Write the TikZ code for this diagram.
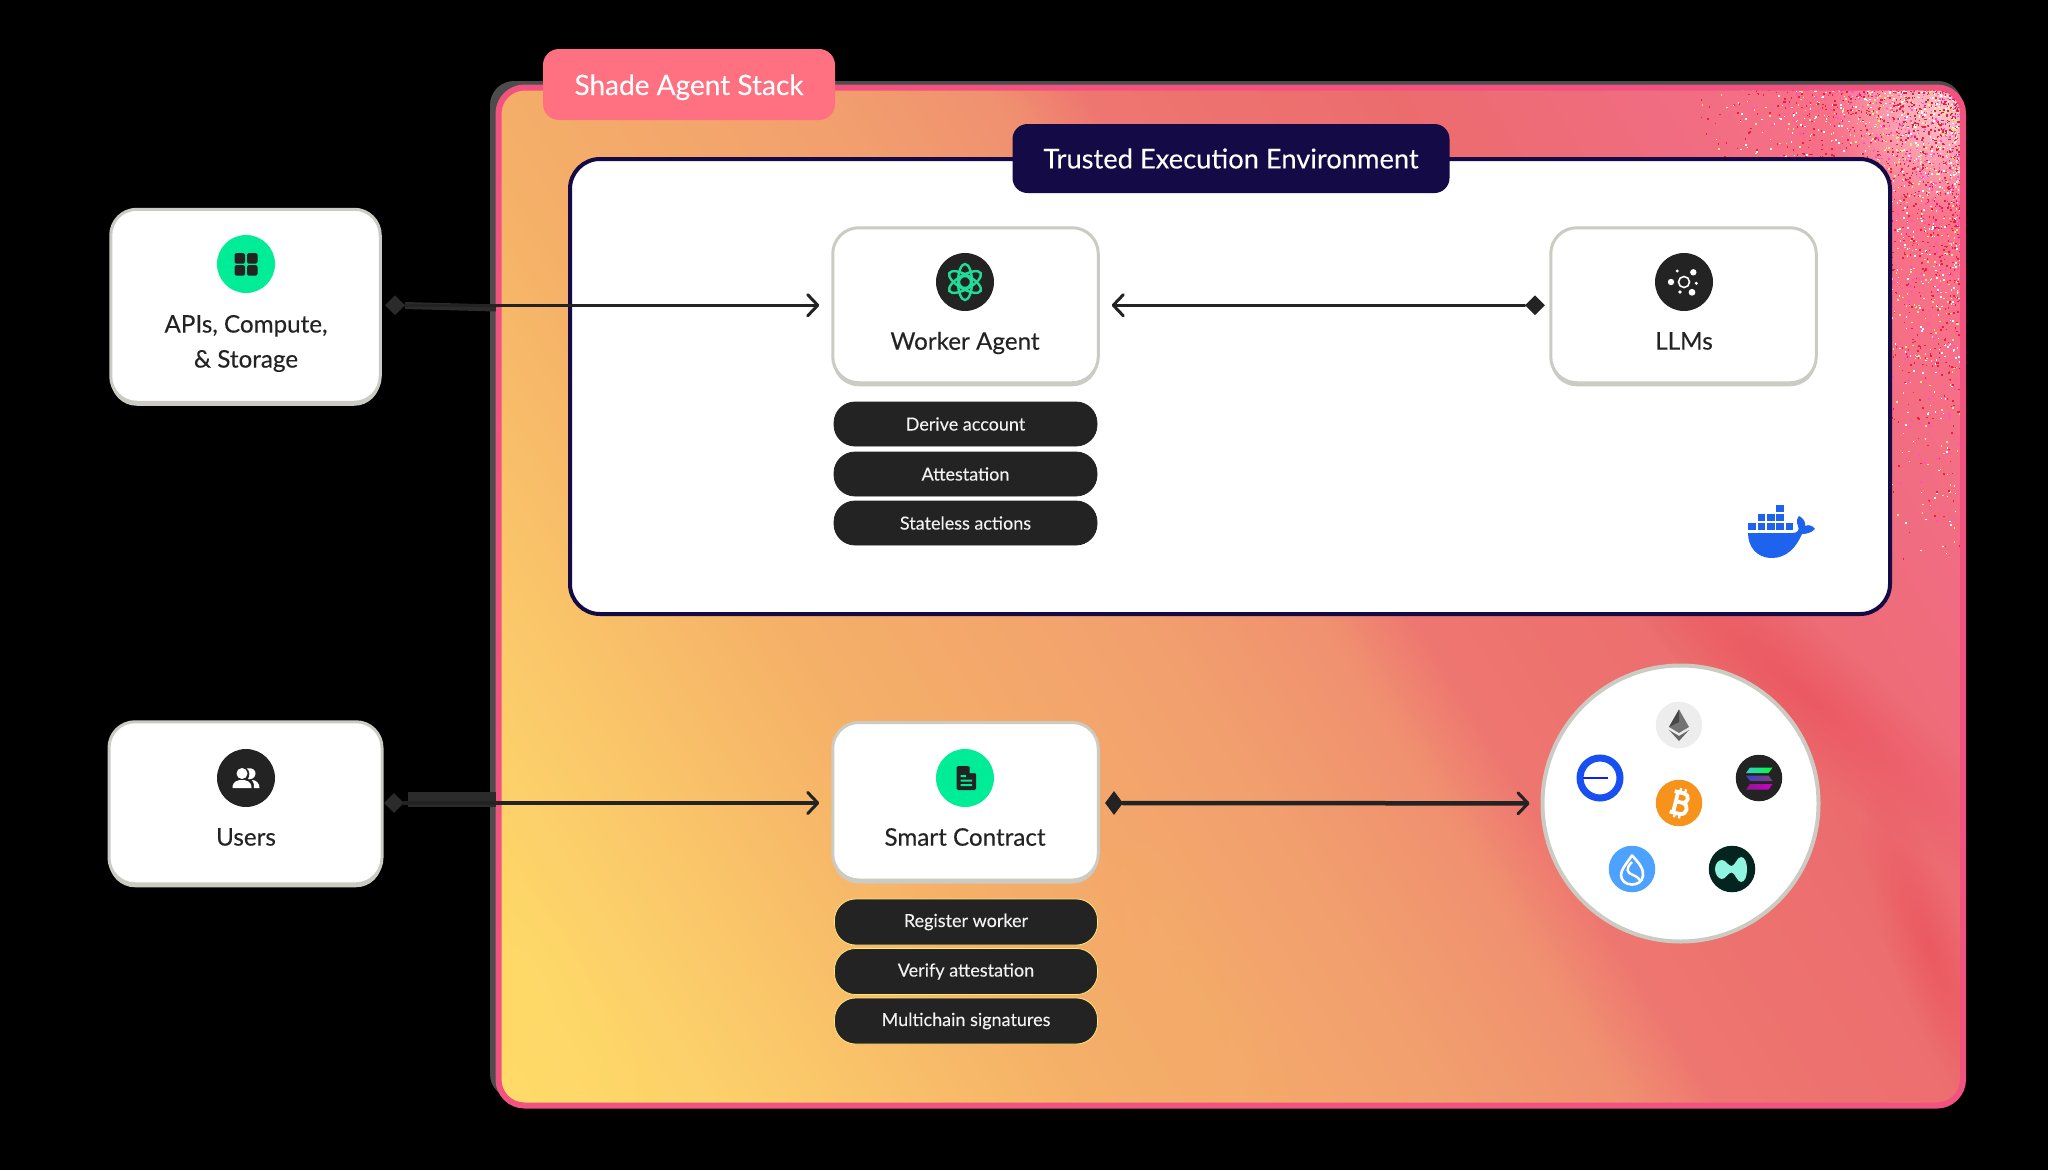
\documentclass[tikz,border=0pt]{standalone}
\usepackage{fontspec}
\setmainfont{Lato}
\newfontfamily\lab{Lato}[FakeBold=0.25]
\newfontfamily\reg{Lato}[FakeBold=0.1]
\usetikzlibrary{shapes.geometric,shadows,arrows.meta,fadings}
\definecolor{ink}{HTML}{232323}
\definecolor{edge}{HTML}{CBCBC3}
\definecolor{mint}{HTML}{00EC97}
\definecolor{atom}{HTML}{1FDC98}
\definecolor{panelpink}{HTML}{F2527F}
\definecolor{navy}{HTML}{140A45}
\definecolor{tagpink}{HTML}{FF7080}
\definecolor{bandgrey}{HTML}{2B2B2B}
\definecolor{dock}{HTML}{1D63ED}
\definecolor{ga}{HTML}{FFDC68}
\definecolor{gb}{HTML}{FCCF6A}
\definecolor{gc}{HTML}{F5B068}
\definecolor{gd}{HTML}{F2A06E}
\definecolor{ge}{HTML}{F09070}
\definecolor{gf}{HTML}{EE7670}
\definecolor{gg}{HTML}{EC6C6E}
\definecolor{gh}{HTML}{F06C80}
\definecolor{gi}{HTML}{FF7490}
\definecolor{specka}{HTML}{E8203C}
\definecolor{speckb}{HTML}{FF4FD0}
\definecolor{speckc}{HTML}{FFE97A}
\definecolor{btcorange}{HTML}{F7931A}
\definecolor{suiblue}{HTML}{4DA2FF}
\definecolor{neardark}{HTML}{04241F}
\definecolor{nearmint}{HTML}{8FF5E0}
\pgfdeclarehorizontalshading{panelband}{100bp}{
 color(0bp)=(ga);color(25.5bp)=(ga);
 color(31bp)=(gb);color(39.3bp)=(gc);
 color(47.5bp)=(gd);color(51.9bp)=(ge);
 color(54bp)=(gf);color(61.3bp)=(gg);
 color(66.8bp)=(gh);color(75bp)=(gi);color(100bp)=(gi)}
\tikzfading[name=softblob,inner color=transparent!0,outer color=transparent!100]
\tikzset{
 cardbox/.style={draw=edge,line width=3pt,fill=white,rounded corners=26pt,inner sep=0pt,
   general shadow={fill=edge,shadow yshift=-3.5pt,shadow xshift=0pt}},
 iconbg/.style={circle,minimum size=58pt,inner sep=0pt,fill=#1},
 lbl/.style={font=\lab\fontsize{24.2}{35}\selectfont,text=ink,inner sep=0pt,align=center},
 pill/.style={fill=ink,draw=#1,line width=.8pt,rounded corners=21pt,minimum width=263pt,minimum height=44pt,inner sep=0pt,
   font=\reg\fontsize{18}{20}\selectfont,text=white!95!black},
 diam/.style={diamond,fill=#1,minimum size=20pt,inner sep=0pt},
 conn/.style={draw=ink,line width=3pt,line cap=round,shorten >=12pt,
   -{Straight Barb[length=10pt,width=21pt,line width=3pt,round]}},
 chain/.style={circle,minimum size=46.5pt,inner sep=0pt,fill=#1},
 streak/.style={fill=#1,path fading=softblob}
}
\begin{document}
\begin{tikzpicture}[x=1pt,y=-1pt]
\useasboundingbox (0,0) rectangle (2048,1170);
\fill[black] (0,0) rectangle (2048,1170);
% panel
\fill[gray!60!black,rounded corners=24pt] (490,81) rectangle (1962,1098);
\begin{scope}
 \clip[rounded corners=26pt] (498.5,87.5) rectangle (1963,1105.5);
 \shade[shading=panelband,transform canvas={shift={(500,1110)},rotate=32}] (-20,-2500) rectangle (1800,2500);
 % soft streaks
 \fill[streak=ga,opacity=.6,transform canvas={shift={(530,980)},rotate=-60}] (0,0) ellipse [x radius=230,y radius=80];
 \fill[streak=specka,opacity=.25,transform canvas={shift={(1800,690)},rotate=-40}] (0,0) ellipse [x radius=300,y radius=60];
 \fill[streak=specka,opacity=.25,transform canvas={shift={(1930,950)},rotate=-70}] (0,0) ellipse [x radius=170,y radius=40];
 \fill[streak=gc,opacity=.45,transform canvas={shift={(1200,1000)},rotate=-65}] (0,0) ellipse [x radius=220,y radius=70];
 \fill[streak=white,opacity=.55,transform canvas={shift={(1940,110)}}] (0,0) ellipse [x radius=110,y radius=110];
 % grain in the pink corner
 \pgfmathsetseed{42}
 \foreach \i in {1,...,3200}{
   \pgfmathsetmacro\px{1962-270*rnd*rnd}
   \pgfmathsetmacro\py{89+480*rnd*rnd}
   \pgfmathsetmacro\pick{int(random(1,5))}
   \ifcase\pick\or\fill[white]\or\fill[specka]\or\fill[speckb]\or\fill[speckc]\or\fill[specka]\fi (\px,\py) rectangle ++(1.5,1.5);
 }
\end{scope}
\draw[panelpink,line width=6pt,rounded corners=26pt] (498.5,87.5) rectangle (1963,1105.5);
\node[fill=tagpink,rounded corners=16pt,minimum width=292pt,minimum height=71pt,inner sep=0pt,font=\reg\fontsize{28}{30}\selectfont,text=white] (stacktag) at (689,84.5) {\smash{\raisebox{-10.5pt}{Shade Agent Stack}}};

% TEE
\node[draw=navy,line width=4pt,fill=white,rounded corners=30pt,minimum width=1320pt,minimum height=455pt,inner sep=0pt] (tee) at (1230,386.5) {};
\node[fill=navy,rounded corners=15pt,minimum width=437pt,minimum height=69pt,inner sep=0pt,font=\reg\fontsize{27.3}{30}\selectfont,text=white] (teetag) at (1231,158.5) {Trusted Execution Environment};

% outer cards
\node[cardbox,minimum width=269.5pt,minimum height=193pt] (apis) at (245.5,305.75) {};
\node[iconbg=mint] (apisicon) at (246,264) {};
\node[lbl] (apistext) at (246,343.5) {APIs, Compute,\\\& Storage};
\node[cardbox,minimum width=273pt,minimum height=162pt] (users) at (245.5,802.75) {};
\node[iconbg=ink] (usersicon) at (246,778) {};
\node[lbl] (userstext) at (246,837) {Users};

% inner cards
\node[cardbox,minimum width=265.5pt,minimum height=155pt] (worker) at (965.5,305.25) {};
\node[iconbg=ink] (workericon) at (965,282) {};
\node[lbl] (workertext) at (965,343) {Worker Agent};
\node[cardbox,minimum width=265.5pt,minimum height=155pt] (llm) at (1683.5,305.25) {};
\node[iconbg=ink] (llmicon) at (1684,282) {};
\node[lbl] (llmtext) at (1684,341) {LLMs};
\node[cardbox,minimum width=265.5pt,minimum height=157.5pt] (contract) at (965.5,801.25) {};
\node[iconbg=mint] (contracticon) at (965,778) {};
\node[lbl] (contracttext) at (965,837) {Smart Contract};

% pills
\node[pill=ink] (p1) at (965.5,424) {Derive account};
\node[pill=ink] (p2) at (965.5,474) {Attestation};
\node[pill=ink] (p3) at (965.5,523) {Stateless actions};
\node[pill=speckc,minimum height=46pt] (p4) at (966,922) {Register worker};
\node[pill=speckc,minimum height=46pt] (p5) at (966,971.5) {Verify attestation};
\node[pill=speckc,minimum height=46pt] (p6) at (966,1021) {Multichain signatures};

% chain disc
\node[circle,draw=edge,line width=4pt,fill=white,minimum size=276pt,inner sep=0pt] (disc) at (1680.5,803.5) {};

% connectors
\node[diam=bandgrey] (d1) at (395,305.25) {};
\coordinate (e1) at (496,308);
\draw[bandgrey,line width=7pt] (d1) -- (e1);
\draw[conn] (d1) -- (worker);
\node[diam=ink] (d2) at (1535,305.25) {};
\draw[conn] (d2) -- (worker);
\node[diam=bandgrey] (d3) at (394,803) {};
\coordinate (e3a) at (408,799.5);
\coordinate (e3b) at (496,799.5);
\draw[bandgrey,line width=15pt] (e3a) -- (e3b);
\draw[conn,line width=4.5pt] (d3) -- (contract.west |- d3);
\node[diam=ink,minimum width=18pt,minimum height=24pt] (d4) at (1114,803) {};
\draw[conn,line width=4.5pt,shorten >=11pt] (d4) -- (disc);

% icon glyphs
% grid
\foreach \dx/\dy in {-11.5/-11,1/-11,-11.5/1,1/1}
  \fill[ink,rounded corners=1.5pt] (246+\dx,264+\dy) rectangle ++(10.5,10.5);
% users
\fill[white] (242,773.5) circle (5.5);
\fill[white] (232.5,788) .. controls (232.5,781) and (238,780) .. (242,780) .. controls (246,780) and (251.5,781) .. (251.5,788) -- cycle;
\fill[white] (247,768.5) .. controls (253,767) and (256,771) .. (255.5,774) .. controls (255,778) and (251,780) .. (248,779) .. controls (250,776) and (250,771) .. (247,768.5) -- cycle;
\fill[white] (252,780) .. controls (256,780) and (259.5,783) .. (259.5,788) -- (254,788) .. controls (254,785) and (254,782) .. (252,780) -- cycle;
% atom
\begin{scope}[shift={(965,282)}]
 \foreach \a in {0,60,120}
   \draw[atom,line width=2.4pt,rotate=\a] (0,0) ellipse [x radius=7,y radius=18];
 \draw[atom,line width=2.4pt,fill=ink] (0,0) circle (6);
\end{scope}
% llm
\begin{scope}[shift={(1684,282)}]
 \draw[white,line width=1.6pt] (0,0) circle (5.5);
 \fill[white] (9.3,-9.7) circle (3.2) (-6.7,-11) circle (1.6) (-13,0) circle (3.2) (12.3,1.3) circle (1.7) (-4,10) circle (1.8) (8,10.3) circle (3.4);
\end{scope}
% document
\fill[ink,rounded corners=1.5pt] (956.5,766) -- (969,766) -- (976,773.5) -- (976,790) -- (956.5,790) -- cycle;
\fill[mint] (969.5,766.5) -- (969.5,773) -- (976,773) -- cycle;
\fill[mint] (960.5,775) rectangle (966,777.2) (960.5,779.5) rectangle (972,781.7) (960.5,784) rectangle (972,786.2);
% docker
\foreach \xx/\yy in {1748/523,1757.5/523,1767/523,1776.4/523,1785.6/523,1757.5/514,1767/514,1776.4/514,1776.4/505}
  \fill[dock] (\xx,\yy) rectangle ++(7.5,7.3);
\fill[dock] (1748,533) -- (1793,533) .. controls (1797,533) and (1800,530) .. (1798,526)
  .. controls (1796,522) and (1797,518) .. (1799,516)
  .. controls (1803,518) and (1806,522) .. (1805,526)
  .. controls (1809,524) and (1813,526) .. (1815,529)
  .. controls (1811,533) and (1806,534) .. (1802,534)
  .. controls (1796,548) and (1786,558) .. (1772,558)
  .. controls (1756,558) and (1748,546) .. (1748,533) -- cycle;
% chains
\node[chain=black!7] (eth) at (1679,725) {};
\fill[black!55] (1679,709.5) -- (1669,727) -- (1679,733) -- (1689,727) -- cycle;
\fill[black!72] (1679,709.5) -- (1669,727) -- (1679,722) -- cycle;
\fill[black!60] (1669,730) -- (1679,741) -- (1689,730) -- (1679,736) -- cycle;
\node[circle,draw=dock!80!blue,line width=7pt,fill=white,minimum size=40pt,inner sep=0pt] (ring) at (1600,778) {};
\draw[blue!70!dock,line width=2.4pt] (1583,778) -- (1608,778);
\node[chain=ink] (sol) at (1759,778) {};
\shade[left color=cyan!60!gray,right color=green!80!cyan] (1750,767.5) -- (1772.5,767.5) -- (1768.5,773) -- (1746,773) -- cycle;
\shade[left color=blue!50!gray,right color=violet!50!gray] (1746,775.5) -- (1768.5,775.5) -- (1772.5,781) -- (1750,781) -- cycle;
\shade[left color=violet!90!white,right color=magenta!60!violet] (1750,784) -- (1772.5,784) -- (1768.5,789.5) -- (1746,789.5) -- cycle;
\node[chain=btcorange] (btc) at (1679,803) {};
\begin{scope}[shift={(1679,803)},rotate=-14]
 \draw[white,line width=3.8pt,line join=round] (-7,-10.5) -- (3,-10.5) .. controls (9,-10.5) and (9,-1) .. (3,-1) -- (-5,-1) (3,-1) .. controls (11,-1) and (11,10.5) .. (3,10.5) -- (-7,10.5) (-3.5,-10.5) -- (-3.5,10.5);
 \draw[white,line width=2.4pt] (-1.5,-15) -- (-1.5,-10) (3.5,-15) -- (3.5,-10) (-1.5,10) -- (-1.5,15) (3.5,10) -- (3.5,15);
\end{scope}
\node[chain=suiblue] (sui) at (1632,869) {};
\draw[white,line width=2.6pt,line join=round] (1632,855.5) .. controls (1639,863) and (1644,869) .. (1643,876) .. controls (1642,882) and (1637,884.5) .. (1632,884.5) .. controls (1625,884.5) and (1621,880) .. (1621,875) .. controls (1621,870) and (1626,864) .. (1632,855.5) -- cycle;
\draw[white,line width=2.4pt] (1632,862) .. controls (1625,869) and (1627,873) .. (1633,875) .. controls (1637,877) and (1639,878) .. (1640.5,881);
\node[chain=neardark] (near) at (1732,869) {};
\fill[nearmint] (1715,869) .. controls (1715,863) and (1719,860) .. (1722,860) .. controls (1726,860) and (1728,866) .. (1731.5,866) .. controls (1735,866) and (1737,857) .. (1741,857) .. controls (1745,857) and (1747,863) .. (1747,869) .. controls (1747,876) and (1745,882) .. (1741,882) .. controls (1737,882) and (1735,872.5) .. (1731.5,872.5) .. controls (1728,872.5) and (1726,879) .. (1722,879) .. controls (1719,879) and (1715,875) .. (1715,869) -- cycle;
\end{tikzpicture}
\end{document}
